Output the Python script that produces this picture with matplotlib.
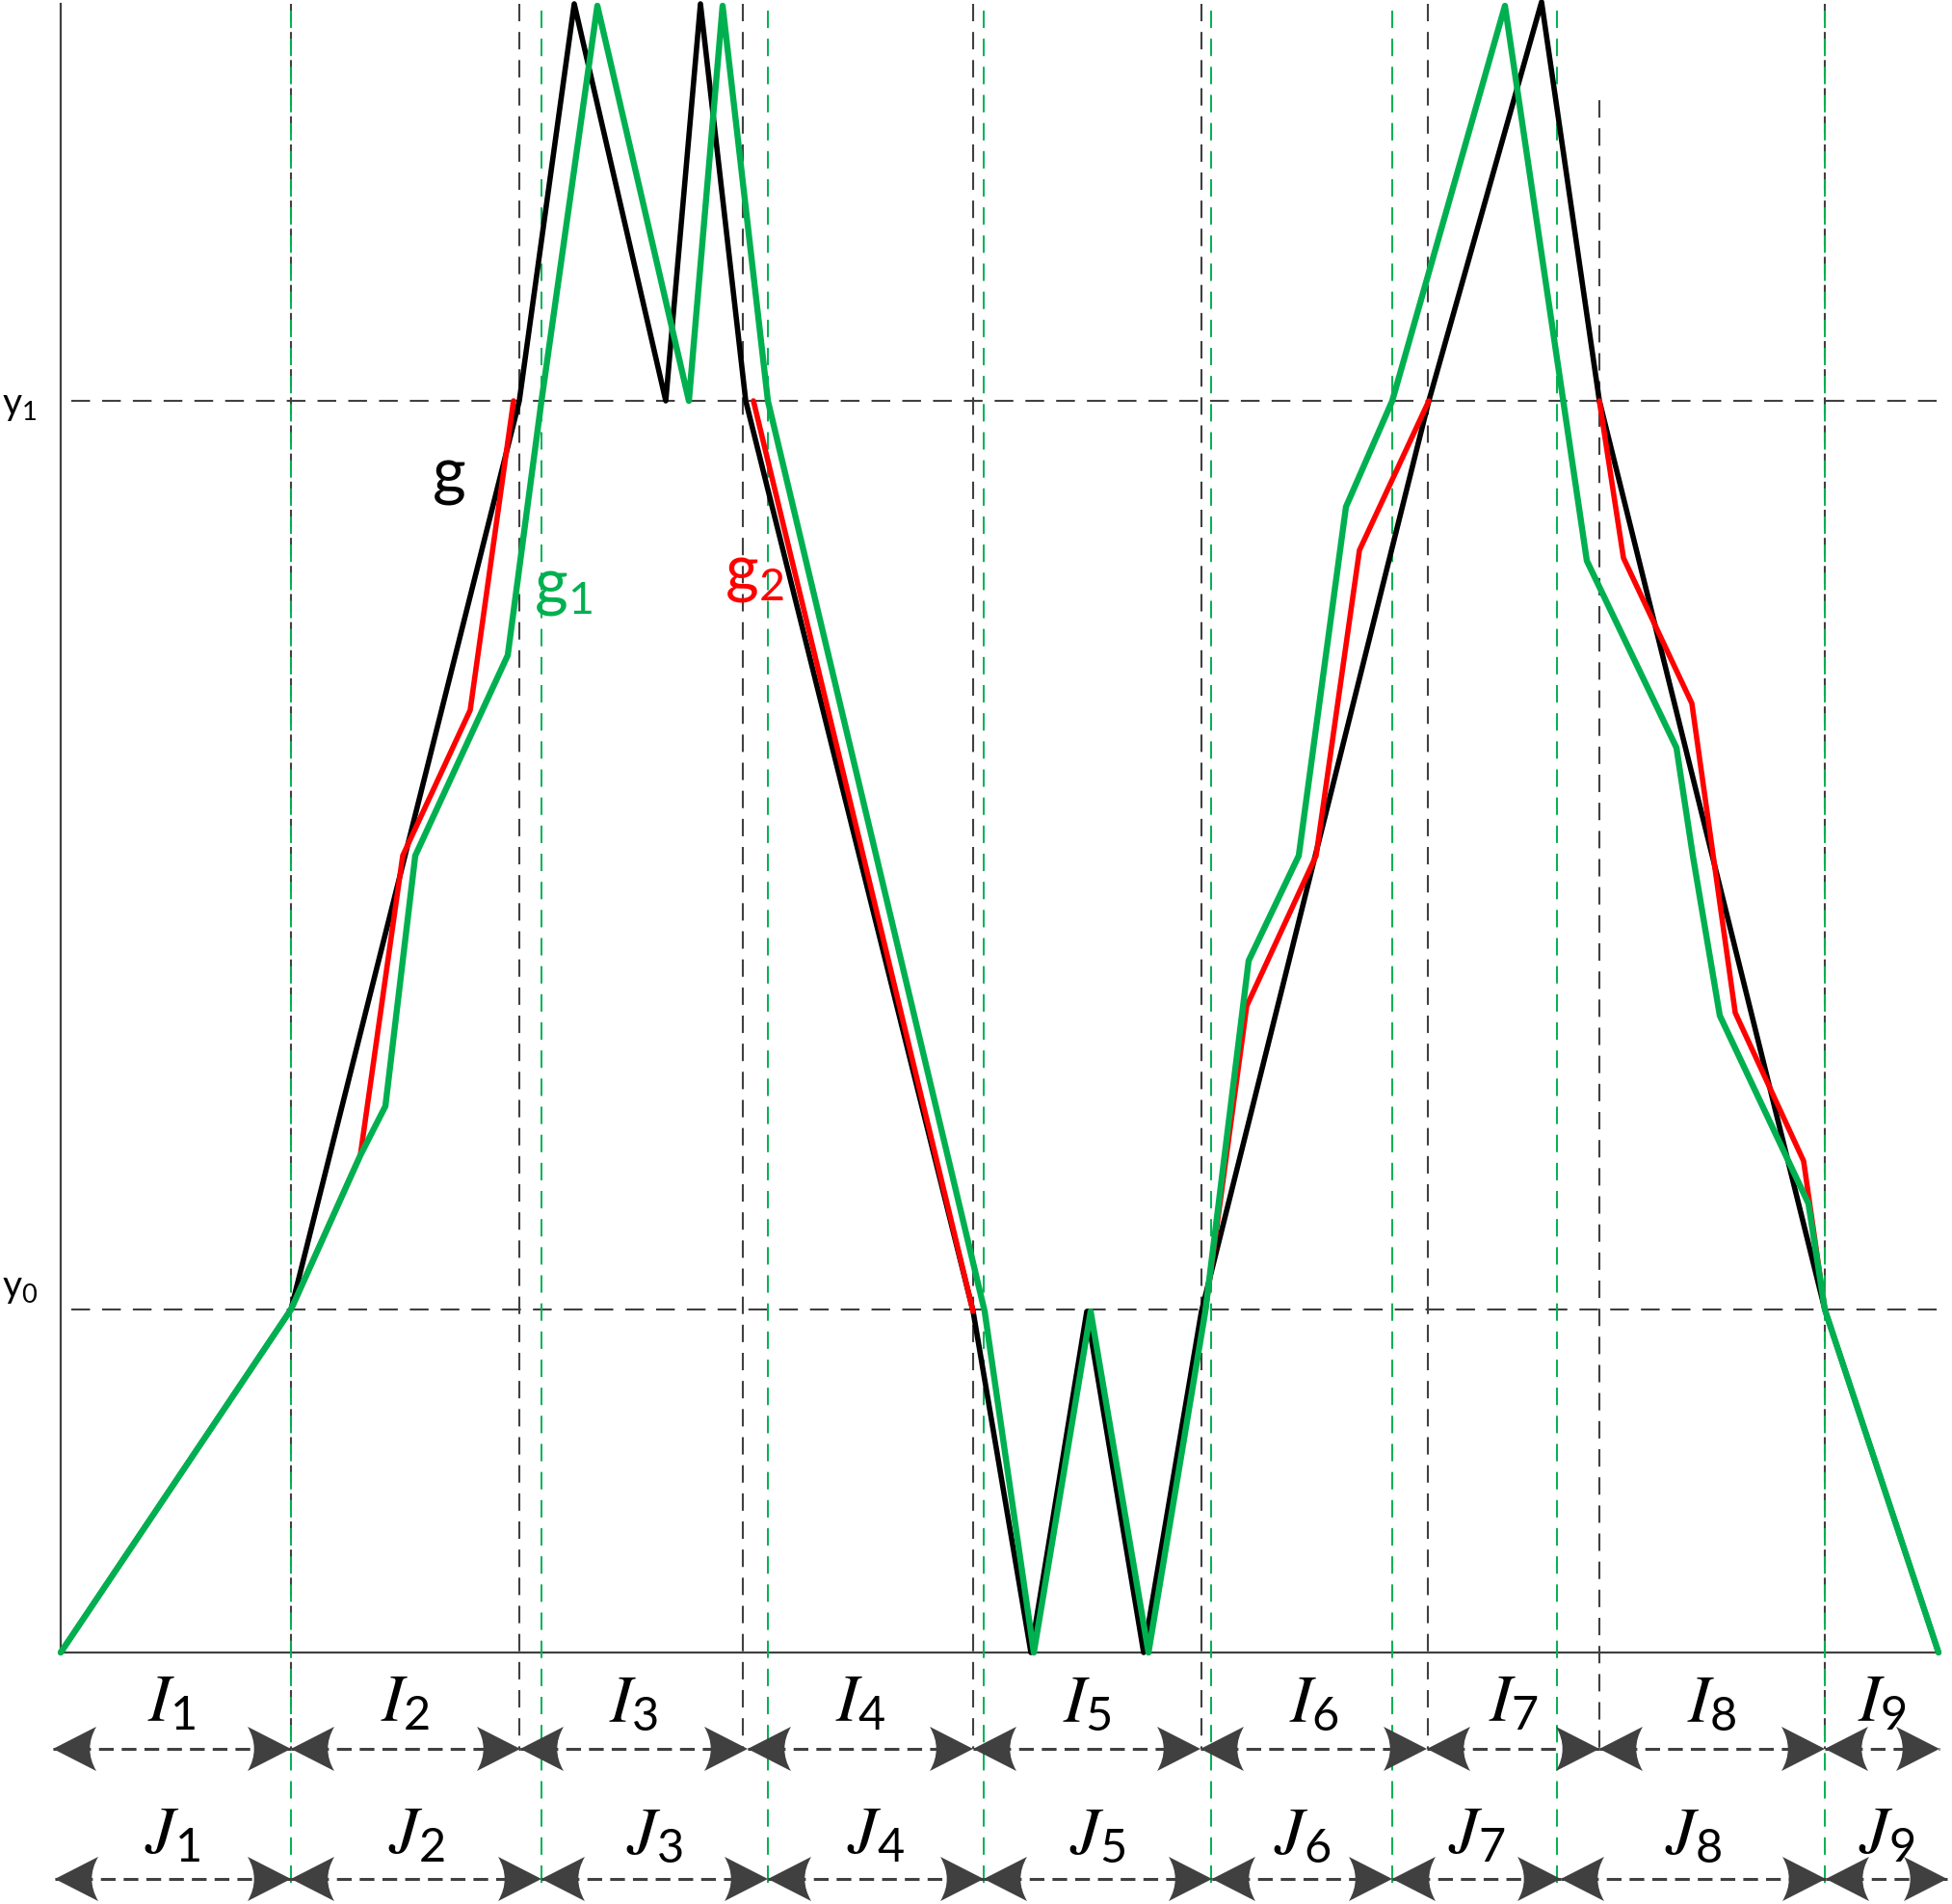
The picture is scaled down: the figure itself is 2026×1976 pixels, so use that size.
import numpy as np
import matplotlib.pyplot as plt
from matplotlib.path import Path
from matplotlib.patches import PathPatch

plt.rcParams['font.family'] = ['Lato', 'DejaVu Sans']
plt.rcParams['lines.scale_dashes'] = False

# layout is in pixel units of the picture (y grows downwards)
y1_lev = 416
y0_lev = 1359
x_left = 63
x_right = 2013
y_top = 4
y_bot = 1715

# g (black)
g_x = [63, 302, 539, 596, 691, 727, 774, 1010, 1070, 1128, 1187, 1247, 1483, 1600, 1660, 1894, 2012]
g_y = [1715, 1359, 416, 4, 416, 4, 416, 1361, 1715, 1361, 1715, 1361, 416, 2, 416, 1359, 1715]

# g1 (green)
g1_x = [63, 302, 374, 400, 431, 527, 562, 620, 715, 750, 797, 1022, 1073, 1132, 1192, 1251,
        1296, 1348, 1397, 1445, 1562, 1647, 1740, 1757, 1785, 1877, 1894, 2012]
g1_y = [1715, 1359, 1199, 1148, 888, 680, 416, 6, 416, 6, 416, 1361, 1715, 1361, 1715, 1361,
        997, 888, 526, 416, 6, 582, 776, 888, 1054, 1249, 1359, 1715]

# g2 (red), only where it leaves g and g1
g2_x = [302, 374, 418, 488, 533, np.nan, 782, 1010, np.nan,
        1251, 1294, 1366, 1411, 1483, np.nan, 1660, 1685, 1756, 1801, 1872, 1894]
g2_y = [1359, 1199, 888, 737, 416, np.nan, 416, 1361, np.nan,
        1361, 1044, 888, 571, 416, np.nan, 416, 579, 730, 1051, 1205, 1359]

# interval boundaries
black_dash_x = [302, 539, 771, 1010, 1247, 1482, 1660, 1894]
black_dash_top = [4, 4, 4, 4, 4, 4, 104, 4]
green_dash_x = [302, 562, 797, 1021, 1257, 1445, 1616, 1894]
I_edges = [55, 302, 540, 776, 1010, 1246, 1481, 1660, 1894, 2013]
J_edges = [57, 302, 562, 797, 1021, 1258, 1445, 1620, 1895, 2021]
I_names = [r'$I_{\mathregular{%d}}$' % k for k in range(1, 10)]
J_names = [r'$J_{\mathregular{%d}}$' % k for k in range(1, 10)]

I_row = 1815
J_row = 1950
gray = '#404040'
green = '#00B050'
red = '#FF0000'

fig = plt.figure(figsize=(20.26, 19.76), dpi=100)
ax = fig.add_axes([0, 0, 1, 1])
ax.set_xlim(0, 2026)
ax.set_ylim(1976, 0)
ax.axis('off')

# axes of the sketch
ax.plot([x_left, x_left], [y_top, y_bot], color=gray, lw=1.6)
ax.plot([x_left, x_right], [y_bot, y_bot], color=gray, lw=1.6)

# level lines
for yy in [y1_lev, y0_lev]:
    ax.plot([74, 2016], [yy, yy], color=gray, lw=1.5, ls=(0, (14, 9)))

# vertical dashed boundaries
for xx, yt in zip(black_dash_x, black_dash_top):
    ax.plot([xx, xx], [yt, I_row], color=gray, lw=1.5, ls=(0, (13, 8)))
for xx in green_dash_x:
    ax.plot([xx, xx], [11, 1962], color=green, lw=1.4, ls=(0, (13, 8)))

# curves
kw = dict(solid_joinstyle='round', solid_capstyle='round')
ax.plot(g_x, g_y, color='black', lw=4.0, **kw)
ax.plot(g2_x, g2_y, color=red, lw=4.0, **kw)
ax.plot(g1_x, g1_y, color=green, lw=4.6, **kw)

ax.text(466, 494, 'g', fontsize=48, color='black', ha='center', va='center')
ax.text(584, 610, r'$\mathregular{g_1}$', fontsize=48, color=green, ha='center', va='center')
ax.text(783, 596, r'$\mathregular{g_2}$', fontsize=48, color=red, ha='center', va='center')

ax.text(2, 421, r'$\mathregular{y_1}$', fontsize=28, ha='left', va='center')
ax.text(2, 1337, r'$\mathregular{y_0}$', fontsize=28, ha='left', va='center')


def head(x_tip, y, d, L=45, H=23):
    bx = x_tip - d * L
    verts = [(x_tip, y), (bx, y - H), (x_tip - d * 0.7 * L, y), (bx, y + H), (x_tip, y)]
    codes = [Path.MOVETO, Path.LINETO, Path.CURVE3, Path.CURVE3, Path.CLOSEPOLY]
    ax.add_patch(PathPatch(Path(verts, codes), facecolor=gray, edgecolor='none', zorder=4))


def interval_row(edges, names, y_row, y_text):
    for k in range(len(names)):
        a, b = edges[k], edges[k + 1]
        ax.plot([a, b], [y_row, y_row], color=gray, lw=2.2, ls=(0, (11, 6)), zorder=3)
        head(a, y_row, -1)
        head(b, y_row, 1)
        ax.text((a + b) / 2, y_text, names[k], fontsize=50, ha='center', va='baseline',
                math_fontfamily='stix')


interval_row(I_edges, I_names, I_row, 1787)
interval_row(J_edges, J_names, J_row, 1924)

fig.savefig('out.png', dpi=100)
